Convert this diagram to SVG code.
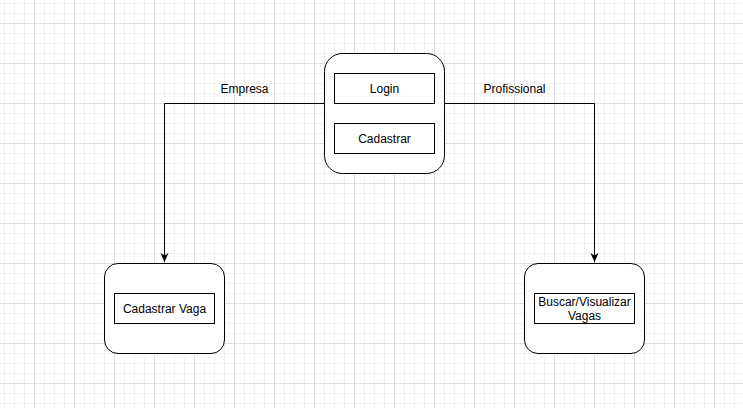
<svg xmlns="http://www.w3.org/2000/svg" width="743" height="408" viewBox="0 0 743 408">
<defs>
<pattern id="minor" x="4" y="3" width="10" height="10" patternUnits="userSpaceOnUse">
<path d="M0 0.5H10M0.5 0V10" fill="none" stroke="#f0f0f0" stroke-width="1"/>
</pattern>
<pattern id="major" x="34" y="23" width="40" height="40" patternUnits="userSpaceOnUse">
<path d="M0 0.5H40M0.5 0V40" fill="none" stroke="#dedede" stroke-width="1"/>
</pattern>
<marker id="arrow" markerWidth="10" markerHeight="10" refX="9" refY="5" orient="auto" markerUnits="userSpaceOnUse">
<path d="M0 1 L9 5 L0 9 L2.5 5 Z" fill="#000"/>
</marker>
</defs>
<style>
.outer{fill:#fff;stroke:#000;stroke-width:1}
.inner{fill:#fff;stroke:#000;stroke-width:1}
.lbl{font-family:"Liberation Sans",Arial,sans-serif;font-size:12px;fill:#000;text-anchor:middle}
.edge{fill:none;stroke:#000;stroke-width:1}
</style>
<rect width="743" height="408" fill="#fff"/>
<rect width="743" height="408" fill="url(#minor)"/>
<rect width="743" height="408" fill="url(#major)"/>
<g id="connectors">
<path class="edge" d="M324.5 103.5 H164.5 V262" marker-end="url(#arrow)"/>
<path class="edge" d="M444.5 103.5 H594.5 V262" marker-end="url(#arrow)"/>
<text class="lbl" x="244.5" y="93">Empresa</text>
<text class="lbl" x="514.5" y="93">Profissional</text>
</g>
<g id="node-inicio">
<rect class="outer" x="324.5" y="53.5" width="120" height="120" rx="18" ry="18"/>
<g id="node-login">
<rect class="inner" x="334.5" y="73.5" width="100" height="30"/>
<text class="lbl" x="384.5" y="93">Login</text>
</g>
<g id="node-cadastrar">
<rect class="inner" x="334.5" y="123.5" width="100" height="30"/>
<text class="lbl" x="384.5" y="143">Cadastrar</text>
</g>
</g>
<g id="node-empresa">
<rect class="outer" x="104.5" y="263.5" width="120" height="90" rx="13.5" ry="13.5"/>
<rect class="inner" x="114.5" y="293.5" width="100" height="30"/>
<text class="lbl" x="164.5" y="313">Cadastrar Vaga</text>
</g>
<g id="node-profissional">
<rect class="outer" x="524.5" y="263.5" width="120" height="90" rx="13.5" ry="13.5"/>
<rect class="inner" x="534.5" y="293.5" width="100" height="30"/>
<text class="lbl" x="584.5" y="306">Buscar/Visualizar</text>
<text class="lbl" x="584.5" y="320">Vagas</text>
</g>
</svg>
